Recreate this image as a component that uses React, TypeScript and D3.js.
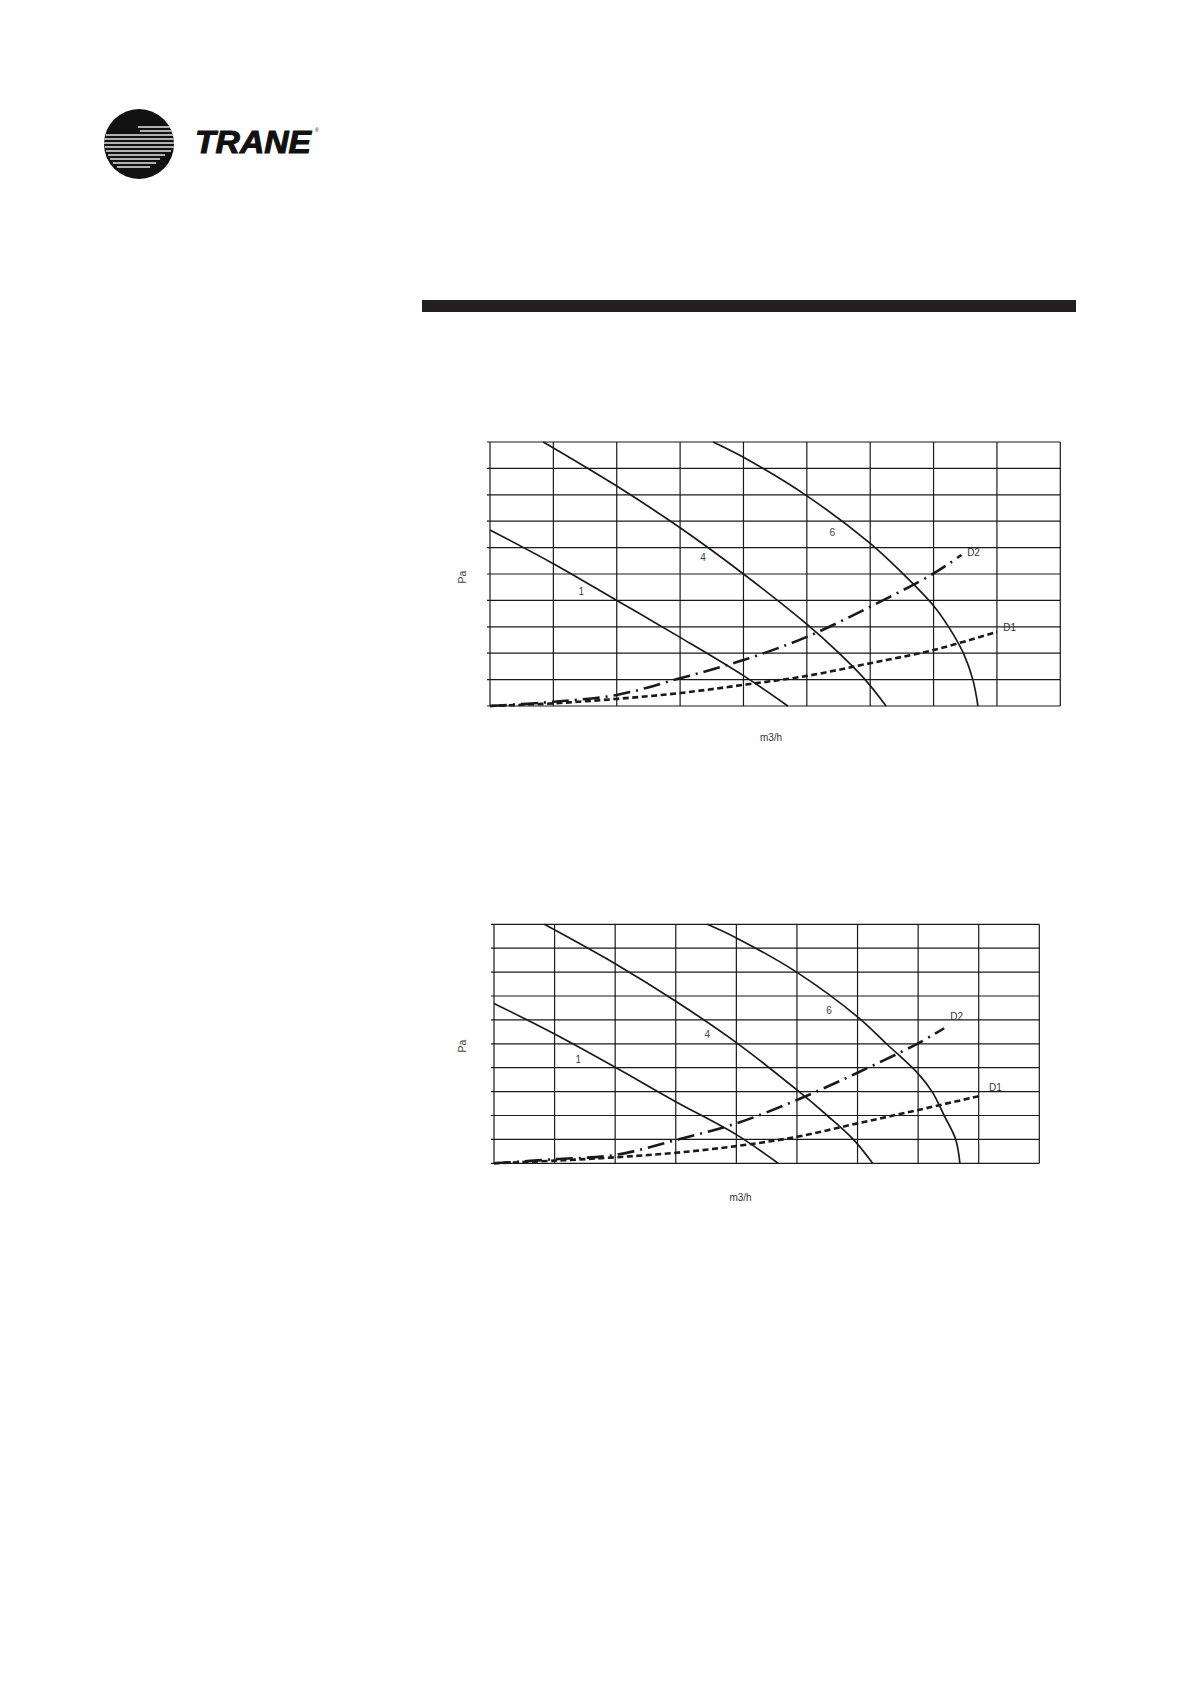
import * as d3 from 'd3'

type Pt = [number, number]

// grid: 9 columns x 10 rows, no tick values printed
const gridCols = d3.range(0, 10)
const gridRows = d3.range(0, 11)

// upper chart (grid units)
const fan1A: Pt[] = [[0, 6.67], [1, 5.39], [2, 4.0], [3, 2.6], [4, 1.15], [4.7, 0]]
const fan4A: Pt[] = [[0.84, 10], [2, 8.33], [3, 6.75], [4, 5.0], [5, 3.1], [5.5, 2.02], [5.92, 1], [6.25, 0]]
const fan6A: Pt[] = [[3.52, 10], [4, 9.42], [5, 7.96], [6, 6.16], [6.5, 5.05], [7, 3.8], [7.25, 2.95], [7.47, 2], [7.62, 1], [7.7, 0]]
const d2A: Pt[] = [[0, 0], [1, 0.16], [2, 0.42], [3, 1.05], [4, 1.74], [5, 2.62], [6, 3.76], [7, 5.02], [7.44, 5.72]]
const d1A: Pt[] = [[0, 0], [1, 0.1], [2, 0.27], [3, 0.49], [4, 0.8], [5, 1.14], [6, 1.62], [7, 2.12], [8, 2.81]]

// lower chart
const fan1B: Pt[] = [[0, 6.69], [1, 5.41], [2, 4.02], [3, 2.58], [4, 1.2], [4.69, 0]]
const fan4B: Pt[] = [[0.83, 10], [2, 8.35], [3, 6.78], [4, 5.05], [5, 3.07], [5.5, 2.0], [5.93, 1], [6.25, 0]]
const fan6B: Pt[] = [[3.52, 10], [4, 9.43], [5, 7.99], [6, 6.13], [6.5, 4.95], [7, 3.75], [7.23, 3], [7.43, 2], [7.62, 1], [7.69, 0]]
const d2B: Pt[] = [[0, 0], [1, 0.17], [2, 0.35], [3, 0.97], [4, 1.67], [5, 2.65], [6, 3.79], [7, 5.02], [7.43, 5.65]]
const d1B: Pt[] = [[0, 0], [1, 0.11], [2, 0.25], [3, 0.44], [4, 0.72], [5, 1.11], [6, 1.67], [7, 2.23], [8.02, 2.82]]

const curveNames = ['1', '4', '6']
const ductNames = ['D2', 'D1']

// label anchors in grid units
const curveLabelsA: Pt[] = [[1.44, 4.32], [3.36, 5.64], [5.4, 6.59]]
const ductLabelsA: Pt[] = [[7.53, 5.83], [8.1, 2.99]]
const curveLabelsB: Pt[] = [[1.39, 4.36], [3.52, 5.41], [5.53, 6.41]]
const ductLabelsB: Pt[] = [[7.53, 6.16], [8.17, 3.19]]

const yLabel = 'Pa'
const xLabel = 'm3/h'

const font = "'Liberation Sans', Arial, sans-serif"

interface ChartProps {
  left: number
  top: number
  width: number
  height: number
  fans: Pt[][]
  ducts: Pt[][]
  fanLabels: Pt[]
  ductLabels: Pt[]
  paX: number
  paY: number
  unitX: number
  unitY: number
}

function Chart({ left, top, width, height, fans, ducts, fanLabels, ductLabels, paX, paY, unitX, unitY }: ChartProps) {
  const x = d3.scaleLinear().domain([0, 9]).range([left, left + width])
  const y = d3.scaleLinear().domain([0, 10]).range([top + height, top])
  const line = d3.line<Pt>()
    .x((d) => x(d[0]))
    .y((d) => y(d[1]))
    .curve(d3.curveCatmullRom.alpha(0.5))

  const ductStyles = [
    { dash: '17 6 2 6', w: 2.6 },
    { dash: '6 3.5', w: 2.6 },
  ]

  return (
    <g>
      {gridRows.map((r) => (
        <line key={'r' + r} x1={x(0) - 3} x2={x(9)} y1={y(r)} y2={y(r)} stroke="#1a1a1a" strokeWidth={1.2} />
      ))}
      {gridCols.map((c) => (
        <line key={'c' + c} x1={x(c)} x2={x(c)} y1={y(0)} y2={y(10)} stroke="#1a1a1a" strokeWidth={1.2} />
      ))}
      {fans.map((f, i) => (
        <path key={'f' + i} d={line(f) || ''} fill="none" stroke="#1a1a1a" strokeWidth={1.7} />
      ))}
      {ducts.map((dd, i) => (
        <path key={'d' + i} d={line(dd) || ''} fill="none" stroke="#1a1a1a"
          strokeWidth={ductStyles[i].w} strokeDasharray={ductStyles[i].dash} />
      ))}
      {fanLabels.map((p, i) => (
        <text key={'fl' + i} x={x(p[0])} y={y(p[1])} textAnchor="middle" dominantBaseline="central"
          fontFamily={font} fontSize={10} fill="#444">{curveNames[i]}</text>
      ))}
      {ductLabels.map((p, i) => (
        <text key={'dl' + i} x={x(p[0])} y={y(p[1])} dominantBaseline="central"
          fontFamily={font} fontSize={10} fill="#333">{ductNames[i]}</text>
      ))}
      <text x={paX} y={paY} transform={`rotate(-90 ${paX} ${paY})`} textAnchor="middle" dominantBaseline="central"
        fontFamily={font} fontSize={10.5} fill="#444">{yLabel}</text>
      <text x={unitX} y={unitY} textAnchor="middle" fontFamily={font} fontSize={10} fill="#333">{xLabel}</text>
    </g>
  )
}

function Logo() {
  const stripes: [number, number, number][] = [
    [127, 138, 176], [131, 140, 176], [135, 106, 176], [139, 104, 176], [143, 104, 176],
    [147, 105, 175], [151, 106, 171], [155, 108, 165], [159, 110, 160], [163, 113, 156], [167, 117, 150],
  ]
  return (
    <g>
      <defs>
        <clipPath id="logoClip">
          <circle cx={139} cy={144} r={35} />
        </clipPath>
      </defs>
      <circle cx={139} cy={144} r={35} fill="#111" />
      <g clipPath="url(#logoClip)">
        {stripes.map((s, i) => (
          <line key={i} x1={s[1]} x2={s[2]} y1={s[0]} y2={s[0]} stroke="#e6e6e6" strokeWidth={1.5} />
        ))}
      </g>
      <text x={195} y={153} fontFamily={font} fontWeight={900} fontStyle="italic"
        fontSize={32} textLength={116} lengthAdjust="spacingAndGlyphs" fill="#111" stroke="#111" strokeWidth={1}>TRANE</text>
      <text x={315} y={132} fontSize={5} fill="#111" fontFamily={font}>®</text>
    </g>
  )
}

export default function App() {
  return (
    <svg width={1191} height={1684} style={{ position: 'absolute', left: 0, top: 0, background: '#fff' }}>
      <rect x={0} y={0} width={1191} height={1684} fill="#fff" />
      <Logo />
      <rect x={422} y={300} width={654} height={12} fill="#231f20" />
      <Chart left={490} top={442} width={570.3} height={264}
        fans={[fan1A, fan4A, fan6A]} ducts={[d2A, d1A]}
        fanLabels={curveLabelsA} ductLabels={ductLabelsA}
        paX={462} paY={577} unitX={771} unitY={741} />
      <Chart left={494} top={924.3} width={545.3} height={239}
        fans={[fan1B, fan4B, fan6B]} ducts={[d2B, d1B]}
        fanLabels={curveLabelsB} ductLabels={ductLabelsB}
        paX={461.7} paY={1046} unitX={740.5} unitY={1200.7} />
    </svg>
  )
}
